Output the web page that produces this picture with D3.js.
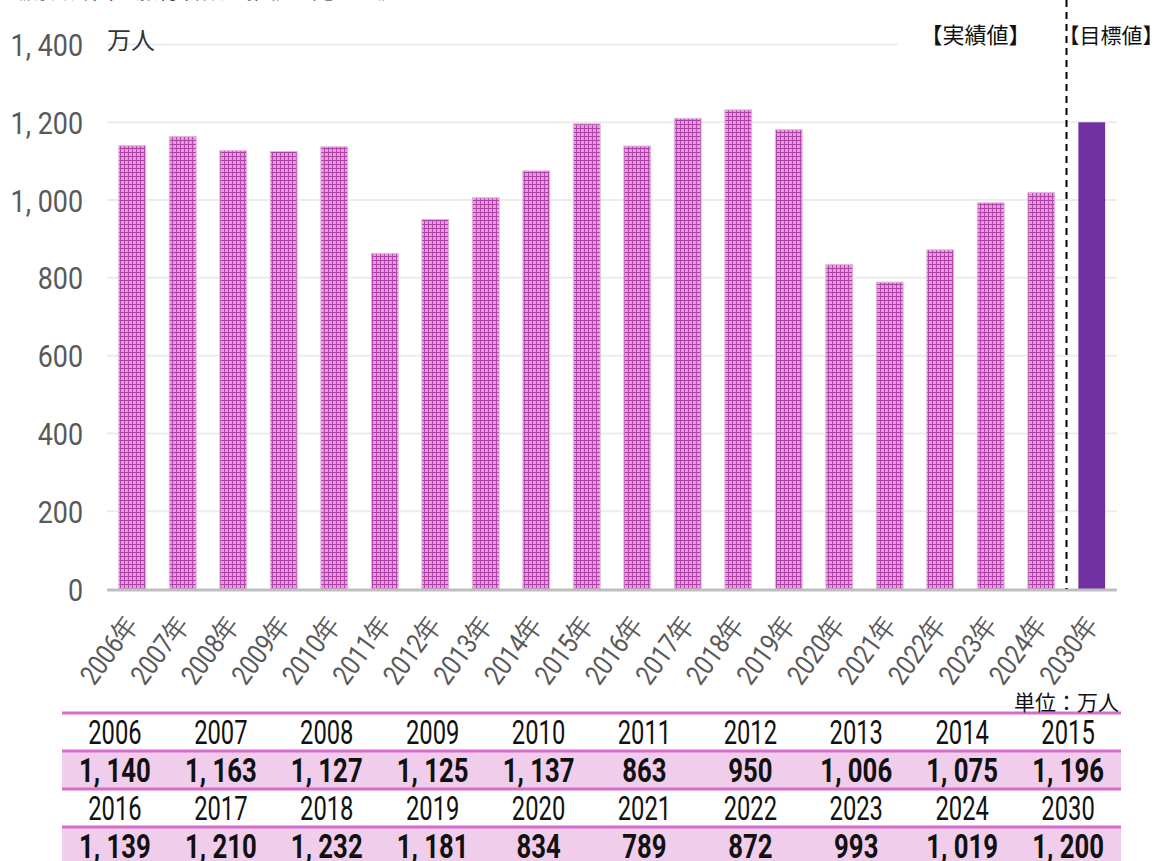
<!DOCTYPE html>
<html>
<head>
<meta charset="utf-8">
<script src="https://cdn.jsdelivr.net/npm/d3@7"></script>
<style>
  body { margin: 0; background: #fff; }
  svg { display: block; }
</style>
</head>
<body>
<svg id="chart"></svg>
<script>
// chart data
const years = ["2006", "2007", "2008", "2009", "2010", "2011", "2012", "2013", "2014", "2015",
               "2016", "2017", "2018", "2019", "2020", "2021", "2022", "2023", "2024", "2030"];
const visitors = [1140, 1163, 1127, 1125, 1137, 863, 950, 1006, 1075, 1196,
                  1139, 1210, 1232, 1181, 834, 789, 872, 993, 1019, 1200];
const yTicks = [0, 200, 400, 600, 800, 1000, 1200, 1400];
const targetYear = "2030";

const W = 1166, H = 861;
const num = "Roboto, 'Noto Sans', sans-serif";
const jp = "'Noto Sans CJK JP', sans-serif";

const svg = d3.select("#chart").attr("width", W).attr("height", H);

// plaid pattern for the actual-value bars
const pat = svg.append("defs").append("pattern")
    .attr("id", "plaid")
    .attr("patternUnits", "userSpaceOnUse")
    .attr("width", 4).attr("height", 4);
pat.append("rect").attr("width", 4).attr("height", 4).attr("fill", "#df9fd8");
pat.append("rect").attr("width", 4).attr("height", 1).attr("fill", "#ad3ca5");
pat.append("rect").attr("width", 1).attr("height", 4).attr("fill", "#b546ad");

// title, mostly cut off at the top of the picture
svg.append("text")
    .attr("x", 4).attr("y", -2)
    .attr("font-family", jp).attr("font-size", 22)
    .attr("fill", "#222")
    .text("《訪日外国人旅行者数の推移と見通し》");

const x = d3.scaleBand()
    .domain(years)
    .range([107, 1117])
    .paddingInner(0.47)
    .paddingOuter(0.235);

const y = d3.scaleLinear()
    .domain([0, 1400])
    .range([589, 44.5]);

const fmt = v => d3.format(",")(v).replace(",", ", ");

// gridlines
svg.append("g")
    .selectAll("line")
    .data(yTicks.filter(d => d > 0))
    .enter()
    .append("line")
    .attr("x1", 107).attr("x2", 1117)
    .attr("y1", d => y(d)).attr("y2", d => y(d))
    .attr("stroke", "#ececec")
    .attr("stroke-width", 2);

// white gap behind the top labels
svg.append("rect").attr("x", 898).attr("y", 30).attr("width", 230).attr("height", 28).attr("fill", "#fff");

// bars
svg.append("g")
    .selectAll("rect")
    .data(years.map((c, i) => ({ year: c, value: visitors[i] })))
    .enter()
    .append("rect")
    .attr("x", d => x(d.year))
    .attr("y", d => y(d.value))
    .attr("width", x.bandwidth())
    .attr("height", d => y(0) - y(d.value))
    .attr("fill", d => d.year === targetYear ? "#7030a0" : "url(#plaid)")
    .attr("stroke", d => d.year === targetYear ? "none" : "#e4b2de")
    .attr("stroke-width", 1);

// baseline
svg.append("line")
    .attr("x1", 107).attr("x2", 1117)
    .attr("y1", y(0) + 1).attr("y2", y(0) + 1)
    .attr("stroke", "#bfbfbf")
    .attr("stroke-width", 3);

// y axis labels (condensed)
svg.append("g")
    .selectAll("text")
    .data(yTicks)
    .enter()
    .append("text")
    .attr("transform", d => `translate(83,${y(d)}) scale(0.84,1)`)
    .attr("dy", "0.36em")
    .attr("text-anchor", "end")
    .attr("font-family", num)
    .attr("font-size", 32)
    .attr("fill", "#595959")
    .text(d => fmt(d));

svg.append("text")
    .attr("x", 107).attr("y", 49)
    .attr("font-family", jp).attr("font-size", 24)
    .attr("fill", "#333")
    .text("万人");

// x axis labels
svg.append("g")
    .selectAll("text")
    .data(years)
    .enter()
    .append("text")
    .attr("transform", d => `translate(${x(d) + x.bandwidth() / 2 - 1},${619}) rotate(-54) scale(0.84,1)`)
    .attr("text-anchor", "end")
    .attr("dy", "0.35em")
    .attr("font-family", num)
    .attr("font-size", 28)
    .attr("fill", "#595959")
    .text(d => d + "年");

// divider between actual and target values
const divX = (x("2024") + x.bandwidth() + x("2030")) / 2;
svg.append("line")
    .attr("x1", divX).attr("x2", divX)
    .attr("y1", 0).attr("y2", y(0))
    .attr("stroke", "#000")
    .attr("stroke-width", 2)
    .attr("stroke-dasharray", "7,5");

svg.append("text")
    .attr("x", divX - 36).attr("y", 43)
    .attr("text-anchor", "end")
    .attr("font-family", jp).attr("font-size", 22)
    .attr("fill", "#111")
    .text("【実績値】");
svg.append("text")
    .attr("x", divX - 8).attr("y", 43)
    .attr("font-family", jp).attr("font-size", 21)
    .attr("fill", "#111")
    .text("【目標値】");

// data table
const tX = d3.scaleBand().domain(d3.range(10)).range([62, 1121]);
const rowH = 38, tTop = 713;
const tbl = svg.append("g");

[0, 1].forEach(block => {
    const top = tTop + block * rowH * 2;
    tbl.append("rect")
        .attr("x", 62).attr("y", top + rowH)
        .attr("width", 1059).attr("height", rowH)
        .attr("fill", "#f0cdea");
    const slice = d3.range(10).map(i => block * 10 + i);
    tbl.selectAll(null)
        .data(slice)
        .enter()
        .append("text")
        .attr("transform", (d, i) => `translate(${tX(i) + tX.bandwidth() / 2},${top + rowH / 2}) scale(0.72,1)`)
        .attr("dy", "0.36em")
        .attr("text-anchor", "middle")
        .attr("font-family", num)
        .attr("font-size", 33)
        .attr("fill", "#111")
        .text(d => years[d]);
    tbl.selectAll(null)
        .data(slice)
        .enter()
        .append("text")
        .attr("transform", (d, i) => `translate(${tX(i) + tX.bandwidth() / 2},${top + rowH * 1.5}) scale(0.78,1)`)
        .attr("dy", "0.36em")
        .attr("text-anchor", "middle")
        .attr("font-family", num)
        .attr("font-weight", "bold")
        .attr("font-size", 33)
        .attr("fill", "#111")
        .text(d => fmt(visitors[d]));
});

tbl.selectAll("line")
    .data([0, 1, 2, 3])
    .enter()
    .append("line")
    .attr("x1", 62).attr("x2", 1121)
    .attr("y1", d => tTop + d * rowH).attr("y2", d => tTop + d * rowH)
    .attr("stroke", "#d96ccf")
    .attr("stroke-width", 3);

svg.append("text")
    .attr("x", 1119).attr("y", 710)
    .attr("text-anchor", "end")
    .attr("font-family", jp).attr("font-size", 21)
    .attr("fill", "#111")
    .text("単位：万人");
</script>
</body>
</html>
